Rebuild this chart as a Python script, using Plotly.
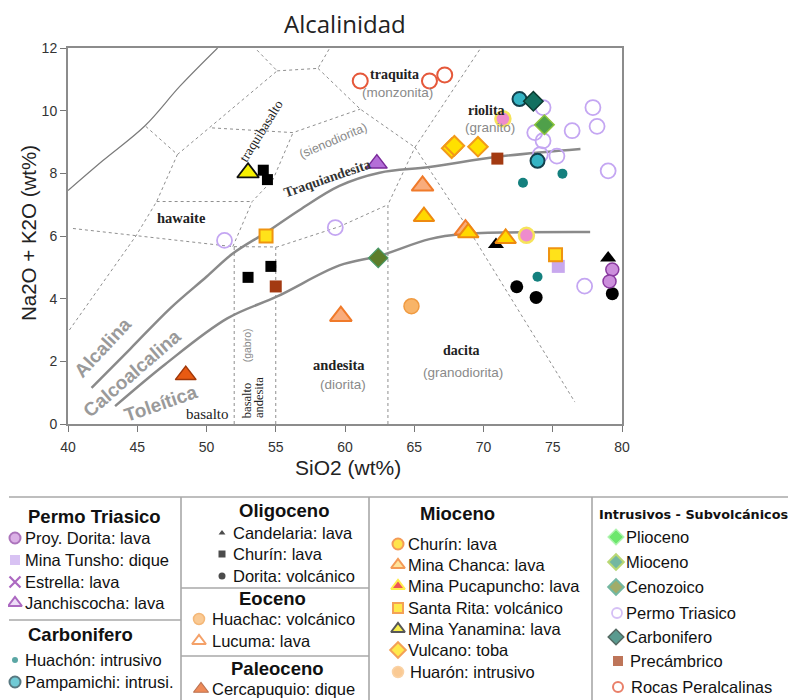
import plotly.graph_objects as go

# ---------------- data (SiO2 wt%, Na2O+K2O wt%) ----------------
precambrico_x = [71.0, 55.0]
precambrico_y = [8.47, 4.39]
churin_oli_x = [54.1, 54.4, 53.0, 54.65]
churin_oli_y = [8.1, 7.8, 4.68, 5.03]
yanamina_x = [53.0]
yanamina_y = [8.02]
santa_rita_x = [54.3, 75.2]
santa_rita_y = [6.0, 5.4]
permo_int_x = [51.3, 59.3, 74.3, 77.9, 78.2, 76.4, 73.7, 74.3, 74.1, 75.3, 79.0, 77.3]
permo_int_y = [5.86, 6.27, 10.1, 10.1, 9.5, 9.36, 9.3, 9.04, 8.6, 8.55, 8.08, 4.4]
pampamichi_x = [72.6, 73.9]
pampamichi_y = [10.37, 8.4]
carbonifero_int_x = [73.6]
carbonifero_int_y = [10.3]
huachon_x = [72.85, 75.7, 73.9]
huachon_y = [7.7, 7.99, 4.7]
mioceno_int_x = [74.4]
mioceno_int_y = [9.55]
cenozoico_x = [62.4]
cenozoico_y = [5.3]
rosado_x = [71.4, 73.1]
rosado_y = [9.74, 6.02]
peralcalinas_x = [61.1, 66.1, 67.2]
peralcalinas_y = [10.95, 10.95, 11.14]
vulcano_x = [67.7, 67.9, 69.6]
vulcano_y = [8.8, 8.88, 8.85]
janchiscocha_x = [62.3]
janchiscocha_y = [8.31]
candelaria_x = [70.9, 79.0]
candelaria_y = [5.73, 5.3]
dorita_volc_x = [72.4, 73.8, 79.3]
dorita_volc_y = [4.38, 4.04, 4.16]
proy_dorita_x = [79.3, 79.1]
proy_dorita_y = [4.93, 4.55]
tunsho_x = [75.4]
tunsho_y = [5.03]
huachac_x = [64.8]
huachac_y = [3.76]
lucuma_x = [59.7, 65.6, 68.7]
lucuma_y = [3.44, 7.6, 6.2]
chanca_x = [65.7, 68.9, 71.6]
chanca_y = [6.62, 6.1, 5.92]
cercapuquio_x = [48.5]
cercapuquio_y = [1.56]

# classification boundaries (data coords)
alc_curve_x = [41.7, 44.5, 47.4, 50.0, 51.9, 54.4, 56.75, 59.6, 62.5, 66.1, 71.0, 77.0]
alc_curve_y = [1.15, 2.4, 3.7, 4.7, 5.44, 6.14, 6.84, 7.6, 8.02, 8.2, 8.53, 8.78]
calc_curve_x = [43.4, 47.0, 51.5, 55.1, 59.6, 62.5, 66.1, 68.5, 77.7]
calc_curve_y = [0.57, 1.9, 3.37, 4.07, 5.06, 5.37, 5.9, 6.06, 6.13]
solid_bound_x = [40.0, 42.5, 45.56, 48.1, 50.8]
solid_bound_y = [7.45, 8.4, 9.52, 10.79, 12.0]
dashed_bounds = [
    ([40.1, 44.9, 46.4, 47.9, 45.56], [3.0, 6.0, 7.1, 8.6, 9.52]),
    ([47.9, 55.1, 53.5], [8.6, 11.27, 12.0]),
    ([55.1, 58.05, 58.9], [11.27, 11.35, 12.0]),
    ([58.05, 61.1, 65.05], [11.35, 10.05, 8.83]),
    ([65.05, 69.5, 69.8], [8.83, 11.84, 12.0]),
    ([65.05, 68.8, 76.6], [8.83, 6.3, 0.7]),
    ([63.1, 63.1, 65.05], [0.0, 7.0, 8.83]),
    ([40.36, 51.9, 55.1, 59.6, 63.1], [6.24, 5.66, 5.65, 6.3, 7.0]),
    ([52.0, 52.0], [0.0, 5.66]),
    ([55.0, 55.0], [0.0, 5.65]),
    ([46.4, 53.3], [7.1, 7.1]),
    ([51.9, 53.3, 54.8, 56.25], [5.66, 7.1, 7.8, 9.3]),
    ([50.4, 56.25, 61.1], [9.45, 9.3, 10.05]),
]

x_ticks = [40, 45, 50, 55, 60, 65, 70, 75, 80]
y_ticks = [0, 2, 4, 6, 8, 10, 12]

# ---------------- geometry (page pixels; page body has an 8px margin) ----------------
OFF = 8
W, H = 796 - OFF, 700 - OFF
L, R, T, B = 68, 622, 48, 424
fig = go.Figure()

GRAY_D = "#8f8f8f"
for xs, ys in dashed_bounds:
    fig.add_trace(go.Scatter(x=xs, y=ys, mode="lines", hoverinfo="skip",
                             line=dict(color=GRAY_D, width=1, dash="3px,3px"), showlegend=False))
fig.add_trace(go.Scatter(x=solid_bound_x, y=solid_bound_y, mode="lines", line_shape="spline",
                         line=dict(color="#7a7a7a", width=1.2), showlegend=False))
fig.add_trace(go.Scatter(x=alc_curve_x, y=alc_curve_y, mode="lines", line_shape="spline",
                         line=dict(color="#8a8a8a", width=2.5), showlegend=False))
fig.add_trace(go.Scatter(x=calc_curve_x, y=calc_curve_y, mode="lines", line_shape="spline",
                         line=dict(color="#8a8a8a", width=2.5), showlegend=False))


def pts(x, y, symbol, size, fill, lcol, lw, name):
    fig.add_trace(go.Scatter(x=x, y=y, mode="markers", name=name, showlegend=False,
                             marker=dict(symbol=symbol, size=size, color=fill,
                                         line=dict(color=lcol, width=lw))))


pts(permo_int_x, permo_int_y, "circle", 15, "rgba(0,0,0,0)", "#c4a6f2", 1.8, "Permo Triasico (int.)")
pts(huachon_x, huachon_y, "circle", 10, "#14807e", "#14807e", 0, "Huachón")
pts(pampamichi_x, pampamichi_y, "circle", 14, "#35b4c4", "#12404c", 2, "Pampamichi")
pts(carbonifero_int_x, carbonifero_int_y, "diamond", 15, "#137060", "#0c3a30", 1.5, "Carbonifero (int.)")
pts(mioceno_int_x, mioceno_int_y, "diamond", 15, "#4fa04a", "#8cc43c", 1.5, "Mioceno (int.)")
pts(cenozoico_x, cenozoico_y, "diamond", 15, "#5d7d2a", "#4a9a6a", 1.2, "Cenozoico")
pts(rosado_x, rosado_y, "circle", 15, "#ee8ccd", "#f6e35a", 2.5, "rosado")
pts(peralcalinas_x, peralcalinas_y, "circle", 15, "rgba(0,0,0,0)", "#e5583a", 2, "Rocas Peralcalinas")
pts(vulcano_x, vulcano_y, "diamond", 15, "#ffe000", "#f29a1a", 2, "Vulcano: toba")
pts(janchiscocha_x, janchiscocha_y, "triangle-up", 18, "#b46ed8", "#7a2a9a", 1.5, "Janchiscocha")
pts(candelaria_x, candelaria_y, "triangle-up", 14, "#000000", "#000000", 0, "Candelaria")
pts(dorita_volc_x, dorita_volc_y, "circle", 13, "#000000", "#000000", 0, "Dorita: volcánico")
pts(proy_dorita_x, proy_dorita_y, "circle", 13, "#cc8fdc", "#8a3aa0", 1.5, "Proy. Dorita")
pts(tunsho_x, tunsho_y, "square", 13, "#c8a8ee", "#c8a8ee", 0, "Mina Tunsho")
pts(huachac_x, huachac_y, "circle", 15, "#f8b468", "#f09a40", 1.5, "Huachac")
pts(lucuma_x, lucuma_y, "triangle-up", 19, "#f9ac7c", "#f07a2a", 2, "Lucuma")
pts(chanca_x, chanca_y, "triangle-up", 18, "#ffd800", "#ee8a10", 2, "Mina Chanca")
pts(cercapuquio_x, cercapuquio_y, "triangle-up", 18, "#e85a12", "#a0380a", 1.5, "Cercapuquio")
pts(precambrico_x, precambrico_y, "square", 12, "#a33a12", "#a33a12", 0, "Precámbrico")
pts(churin_oli_x, churin_oli_y, "square", 11, "#000000", "#000000", 0, "Churín: lava")
pts(santa_rita_x, santa_rita_y, "square", 13, "#ffe21a", "#ef9410", 2, "Santa Rita")
pts(yanamina_x, yanamina_y, "triangle-up", 19, "#f6f000", "#111111", 1.8, "Mina Yanamina")

# ---------------- in-plot labels ----------------
serif = "Liberation Serif"
sans = "Liberation Sans"
ann = []


def lab(x, y, text, size=14, color="#222", font=serif, angle=0):
    ann.append(dict(x=x, y=y, xref="x", yref="y", text=text, showarrow=False, textangle=angle,
                    font=dict(family=font, size=size, color=color), xanchor="center", yanchor="middle"))


lab(48.2, 6.59, "<b>hawaite</b>", size=14.5)
lab(53.9, 9.35, "traquibasalto", size=13.5, angle=-58)
lab(59.1, 9.04, "(sienodiorita)", size=12.5, color="#8a8a8a", font=sans, angle=-23)
lab(58.7, 7.83, "<b>Traquiandesita</b>", size=14, color="#333", angle=-19)
lab(63.6, 11.14, "<b>traquita</b>", size=14)
lab(63.8, 10.57, "(monzonita)", size=13.5, color="#8a8a8a", font=sans)
lab(70.25, 10.0, "<b>riolita</b>", size=14)
lab(70.5, 9.45, "(granito)", size=13.5, color="#8a8a8a", font=sans)
lab(68.4, 2.36, "<b>dacita</b>", size=14)
lab(68.5, 1.65, "(granodiorita)", size=13.5, color="#8a8a8a", font=sans)
lab(59.6, 1.88, "<b>andesita</b>", size=14.5)
lab(59.85, 1.27, "(diorita)", size=13.5, color="#8a8a8a", font=sans)
lab(50.1, 0.32, "basalto", size=15)
lab(52.9, 0.75, "basalto", size=12.5, angle=-90)
lab(53.8, 0.83, "andesita", size=12.5, angle=-90)
lab(52.9, 2.5, "(gabro)", size=10.5, color="#8a8a8a", font=sans, angle=-90)
lab(42.5, 2.45, "<b>Alcalina</b>", size=19, color="#9a9a9a", font=sans, angle=-47)
lab(44.6, 1.62, "<b>Calcoalcalina</b>", size=19, color="#9a9a9a", font=sans, angle=-41)
lab(46.7, 0.64, "<b>Toleítica</b>", size=19, color="#9a9a9a", font=sans, angle=-19)


# title and axis titles (page pixels -> paper)
def pann(px, py, text, size, family=sans, color="#222", angle=0, xanchor="center"):
    ann.append(dict(x=(px - OFF) / W, y=1 - (py - OFF) / H, xref="paper", yref="paper", text=text,
                    showarrow=False, textangle=angle, xanchor=xanchor, yanchor="middle",
                    font=dict(family=family, size=size, color=color)))


pann(345, 24, "Alcalinidad", 24, family="Open Sans")
pann(348, 467, "SiO2 (wt%)", 21)
pann(28, 233, "Na2O + K2O (wt%)", 20.5, angle=-90)

# ---------------- legend table ----------------
LEG_TOP = 485
HEAD, ITEM = 18.5, 16.5
groups_text = [
    # (x, y, text, size, bold, anchor)
    (94, 516, "Permo Triasico", HEAD, True, "center"),
    (23, 538, "Proy. Dorita: lava", ITEM, False, "left"),
    (23, 560, "Mina Tunsho: dique", ITEM, False, "left"),
    (23, 582, "Estrella: lava", ITEM, False, "left"),
    (23, 603, "Janchiscocha: lava", ITEM, False, "left"),
    (80, 634, "Carbonifero", HEAD, True, "center"),
    (23, 660, "Huachón: intrusivo", ITEM, False, "left"),
    (23, 682, "Pampamichi: intrusi.", ITEM, False, "left"),
    (284, 510, "Oligoceno", HEAD, True, "center"),
    (231, 533, "Candelaria: lava", ITEM, False, "left"),
    (231, 554, "Churín: lava", ITEM, False, "left"),
    (231, 576, "Dorita: volcánico", ITEM, False, "left"),
    (272, 598, "Eoceno", HEAD, True, "center"),
    (210, 619, "Huachac: volcánico", ITEM, False, "left"),
    (210, 641, "Lucuma: lava", ITEM, False, "left"),
    (277, 668, "Paleoceno", HEAD, True, "center"),
    (210, 689, "Cercapuquio: dique", ITEM, False, "left"),
    (457, 513, "Mioceno", HEAD, True, "center"),
    (406, 544, "Churín: lava", ITEM, False, "left"),
    (406, 565, "Mina Chanca: lava", ITEM, False, "left"),
    (406, 586, "Mina Pucapuncho: lava", ITEM, False, "left"),
    (406, 608, "Santa Rita: volcánico", ITEM, False, "left"),
    (406, 629, "Mina Yanamina: lava", ITEM, False, "left"),
    (406, 650, "Vulcano: toba", ITEM, False, "left"),
    (408, 672, "Huarón: intrusivo", ITEM, False, "left"),
    (597, 514, "Intrusivos - Subvolcánicos", 12.8, True, "left"),
    (624, 537, "Plioceno", ITEM, False, "left"),
    (624, 562, "Mioceno", ITEM, False, "left"),
    (624, 587, "Cenozoico", ITEM, False, "left"),
    (624, 613, "Permo Triasico", ITEM, False, "left"),
    (624, 637, "Carbonifero", ITEM, False, "left"),
    (628, 661, "Precámbrico", ITEM, False, "left"),
    (629, 687, "Rocas Peralcalinas", ITEM, False, "left"),
]
for (x, y, t, s, b, a) in groups_text:
    fam = "DejaVu Sans" if s < 14 else sans
    ann.append(dict(x=x, y=y, xref="x2", yref="y2", text=("<b>%s</b>" % t) if b else t,
                    showarrow=False, xanchor=a, yanchor="middle",
                    font=dict(family=fam, size=s, color="#111")))

# legend symbols: (x, y, symbol, size, fill, line color, line width)
leg_syms = [
    (15, 538, "circle", 11, "#cc8fdc", "#8a3aa0", 2),
    (15, 560, "square", 10, "#c8a8ee", "#c8a8ee", 0),
    (15, 582, "x-thin", 11, "#8a2aa8", "#8a2aa8", 2.2),
    (15, 603, "triangle-up", 12, "#e6d0f4", "#8a2aa8", 2),
    (15, 660, "circle", 6, "#14807e", "#14807e", 0),
    (15, 682, "circle", 11, "#35b4c4", "#12404c", 2),
    (222, 533, "triangle-up", 6, "#000", "#000", 0),
    (222, 554, "square", 7, "#000", "#000", 0),
    (222, 576, "circle", 7, "#000", "#000", 0),
    (199, 619, "circle", 11, "#f8b468", "#f09a40", 1.5),
    (199, 641, "triangle-up", 12, "#ffffff", "#f07a2a", 2),
    (201, 689, "triangle-up", 13, "#e85a12", "#a0380a", 1.2),
    (398, 544, "circle", 11, "#ffd800", "#f07010", 2),
    (398, 565, "triangle-up", 12, "#ffd870", "#f07010", 2),
    (398, 586, "triangle-up", 12, "#e81010", "#ffe800", 2),
    (398, 608, "square", 10, "#ffe000", "#f07a10", 2),
    (398, 629, "triangle-up", 12, "#f6e800", "#111", 2),
    (398, 650, "diamond", 12, "#ffe000", "#f07a10", 2),
    (398, 672, "circle", 11, "#f8b468", "#f8c080", 1.5),
    (616, 537, "diamond", 12, "#2ede2e", "#8ef08e", 1.5),
    (616, 562, "diamond", 12, "#3a9a7a", "#9cc83a", 2),
    (616, 587, "diamond", 12, "#7a8a2a", "#3a9a7a", 2),
    (617, 613, "circle", 10, "#ffffff", "#c4a6f2", 1.8),
    (616, 637, "diamond", 12, "#137060", "#0c2a20", 1.5),
    (618, 661, "square", 10, "#a33a12", "#a33a12", 0),
    (618, 687, "circle", 10, "#ffffff", "#e04a2a", 2),
]
fig.add_trace(go.Scatter(
    x=[s[0] for s in leg_syms], y=[s[1] for s in leg_syms], mode="markers",
    xaxis="x2", yaxis="y2", showlegend=False, hoverinfo="skip", cliponaxis=False,
    marker=dict(symbol=[s[2] for s in leg_syms], size=[s[3] for s in leg_syms],
                color=[s[4] for s in leg_syms],
                line=dict(color=[s[5] for s in leg_syms], width=[s[6] for s in leg_syms]))))

shapes = []
LC = "#a8a8a8"
for (x0, y0, x1, y1) in [(9, 497, 796, 497), (181, 497, 181, 700),
                         (369, 497, 369, 700), (592, 497, 592, 700), (9, 620, 181, 620),
                         (181, 588, 369, 588), (181, 656, 369, 656)]:
    shapes.append(dict(type="line", xref="x2", yref="y2", x0=x0, y0=y0, x1=x1, y1=y1,
                       line=dict(color=LC, width=1.6)))

axis_common = dict(showgrid=False, zeroline=False, ticks="outside", ticklen=6, tickwidth=1.3,
                   tickcolor="#777", showline=True, linecolor="#8c8c8c", linewidth=2, mirror=True,
                   tickfont=dict(family=sans, size=14, color="#333"), automargin=False)

fig.update_layout(
    width=W, height=H, margin=dict(l=0, r=0, t=0, b=0),
    paper_bgcolor="white", plot_bgcolor="rgba(0,0,0,0)",
    xaxis=dict(domain=[(L - OFF) / W, (R - OFF) / W], range=[40, 80], tickvals=x_ticks,
               ticklabelstandoff=3, **axis_common),
    yaxis=dict(domain=[1 - (B - OFF) / H, 1 - (T - OFF) / H], range=[0, 12], tickvals=y_ticks,
               **axis_common),
    xaxis2=dict(domain=[0, 1], range=[OFF, W + OFF], visible=False, anchor="y2", fixedrange=True),
    yaxis2=dict(domain=[0, 1 - (LEG_TOP - OFF) / H], range=[H + OFF, LEG_TOP], visible=False,
                anchor="x2", fixedrange=True),
    annotations=ann, shapes=shapes, showlegend=False,
)

fig.write_html("out.html")
